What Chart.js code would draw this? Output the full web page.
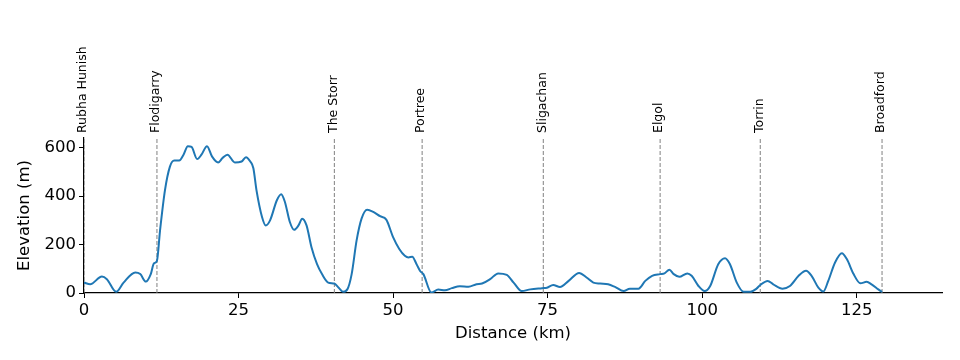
<!DOCTYPE html>
<html>
<head>
<meta charset="utf-8">
<script src="https://cdn.jsdelivr.net/npm/chart.js@4"></script>
<style>
html,body{margin:0;padding:0;background:#fff;}
#wrap{width:960px;height:360px;position:relative;}
</style>
</head>
<body>
<div id="wrap"><canvas id="c" width="960" height="360"></canvas></div>
<script>
const distanceKm = [0.0,1.0,2.9,3.7,5.2,6.4,8.3,9.1,10.0,10.8,11.3,11.8,12.3,13.1,13.9,14.6,15.4,16.1,16.8,17.4,18.3,19.0,19.9,20.7,21.7,22.4,23.2,24.4,25.5,26.2,26.9,27.4,27.9,28.8,29.4,30.1,31.2,31.9,32.5,33.3,34.0,34.7,35.3,36.0,36.8,37.7,38.5,39.5,40.5,41.2,41.9,42.6,43.3,44.1,44.9,45.8,46.8,47.9,48.9,50.0,51.0,51.9,52.5,53.1,53.8,54.4,54.9,56.2,57.3,58.4,59.5,60.8,62.2,63.5,64.4,65.7,67.0,68.4,69.5,70.8,72.2,74.1,74.9,75.9,77.0,78.4,80.1,81.3,82.4,83.5,84.8,85.9,87.3,88.3,89.7,90.8,91.9,93.2,93.9,94.7,95.4,96.3,97.6,98.3,99.4,100.4,101.3,102.6,103.7,104.5,105.6,106.7,107.8,108.8,109.4,110.6,111.5,113.0,114.2,115.6,116.8,117.7,118.8,119.6,120.4,121.5,122.6,123.4,124.5,125.6,126.6,127.4,128.5,129.1];
const elevationM = [43,36,68,57,5,43,85,78,47,78,122,133,258,425,522,547,547,571,606,603,553,571,606,564,539,557,571,539,543,561,543,515,425,314,279,300,383,408,376,293,261,279,307,279,189,119,78,43,39,22,5,15,78,217,307,344,335,317,303,231,182,154,147,150,119,90,78,2,14,11,20,28,26,36,39,57,81,75,43,8,15,20,22,33,25,50,83,64,43,39,36,25,8,18,18,50,71,78,81,96,78,67,81,71,29,8,29,119,144,119,43,5,5,18,33,50,36,18,29,71,92,71,22,6,50,126,164,140,78,40,46,36,15,4];
const placeNames = ["Rubha Hunish","Flodigarry","The Storr","Portree","Sligachan","Elgol","Torrin","Broadford"];
const placeKm = [0,11.8,40.5,54.7,74.3,93.2,109.4,129.1];
const xTicks = [0,25,50,75,100,125];
const yTicks = [0,200,400,600];
const xMax = 138.8;
const yMax = 640;

const FONT = "'DejaVu Sans', sans-serif";

const datasets = [{
  data: distanceKm.map((d,i)=>({x:d,y:elevationM[i]})),
  borderColor: '#1f77b4',
  borderWidth: 2,
  pointRadius: 0,
  tension: 0.4,
  cubicInterpolationMode: 'monotone',
  fill: false,
  order: 1
}];
placeKm.forEach(k=>{
  datasets.push({
    data: [{x:k,y:0},{x:k,y:yMax}],
    borderColor: '#808080',
    borderWidth: 1,
    borderDash: [4,2],
    pointRadius: 0,
    fill: false,
    order: 2
  });
});

const labelPlugin = {
  id: 'placeLabels',
  afterDraw(chart){
    const ctx = chart.ctx;
    const xs = chart.scales.x, ys = chart.scales.y;
    ctx.save();
    ctx.fillStyle = '#000';
    ctx.font = "12.5px " + FONT;
    ctx.textAlign = 'left';
    ctx.textBaseline = 'middle';
    placeNames.forEach((n,i)=>{
      const px = xs.getPixelForValue(placeKm[i]) - 1;
      const py = ys.getPixelForValue(yMax) - 5;
      ctx.save();
      ctx.translate(px, py);
      ctx.rotate(-Math.PI/2);
      ctx.fillText(n, 0, 0);
      ctx.restore();
    });
    ctx.restore();
  }
};

new Chart(document.getElementById('c'), {
  type: 'line',
  data: { datasets },
  options: {
    responsive: false,
    animation: false,
    devicePixelRatio: 1,
    layout: { padding: { left: 0, right: 18, top: 138, bottom: 0 } },
    plugins: { legend: { display: false }, tooltip: { enabled: false } },
    scales: {
      x: {
        type: 'linear',
        min: 0, max: xMax,
        afterFit(s){ s.height = 67; },
        afterBuildTicks(s){ s.ticks = xTicks.map(v=>({value:v})); },
        ticks: { font: { family: FONT, size: 16.5 }, color: '#000', padding: 3, maxRotation: 0 },
        grid: { drawOnChartArea: false, drawTicks: true, tickLength: 5, color: '#000', tickWidth: 1 },
        border: { display: true, color: '#000', width: 1.2 },
        title: { display: true, text: 'Distance (km)', font: { family: FONT, size: 16.5 }, color: '#000', padding: { top: 0, bottom: 16 } }
      },
      y: {
        type: 'linear',
        min: 0, max: yMax,
        afterFit(s){ s.width = 84; },
        afterBuildTicks(s){ s.ticks = yTicks.map(v=>({value:v})); },
        ticks: { font: { family: FONT, size: 16.5 }, color: '#000', padding: 3 },
        grid: { drawOnChartArea: false, drawTicks: true, tickLength: 5, color: '#000', tickWidth: 1 },
        border: { display: true, color: '#000', width: 1.2 },
        title: { display: true, text: 'Elevation (m)', font: { family: FONT, size: 16.5 }, color: '#000', padding: { top: 15, bottom: 0 } }
      }
    }
  },
  plugins: [labelPlugin]
});
</script>
</body>
</html>
